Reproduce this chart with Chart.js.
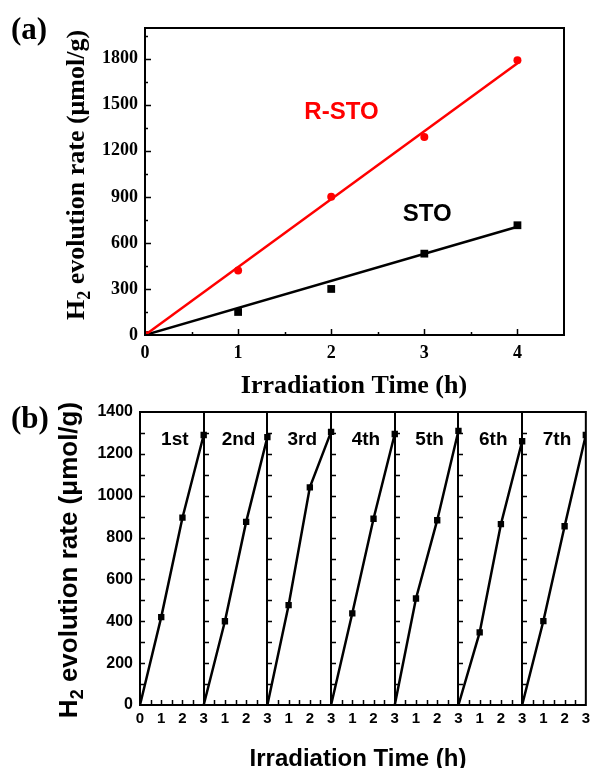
<!DOCTYPE html>
<html><head><meta charset="utf-8">
<script src="https://cdn.jsdelivr.net/npm/chart.js@4.4.0/dist/chart.umd.min.js"></script>
<style>
html,body{margin:0;padding:0;background:#fff;}
#wrap{position:relative;width:595px;height:768px;overflow:hidden;background:#fff;}
canvas{position:absolute;left:0;}
#ca{top:0;}
#cb{top:395px;}
</style></head><body>
<div id="wrap"><canvas id="ca" width="595" height="400"></canvas><canvas id="cb" width="595" height="373"></canvas></div>
<script>
// ---------- Panel (a) data ----------
const timeA = [0, 1, 2, 3, 4];
const rstoValues = [0, 420, 900, 1290, 1790];
const stoValues = [0, 150, 300, 530, 715];
const fitTime = [0, 4];
const rstoFit = [0, 1770];
const stoFit = [0, 705];
const xTicksA = [0, 1, 2, 3, 4];
const yTicksA = [0, 300, 600, 900, 1200, 1500, 1800];

// ---------- Panel (b) data ----------
const cycleLabels = ['1st', '2nd', '3rd', '4th', '5th', '6th', '7th'];
const cycleTime = [0, 1, 2, 3];
const cycle1 = [0, 420, 895, 1290];
const cycle2 = [0, 400, 875, 1280];
const cycle3 = [0, 477, 1040, 1305];
const cycle4 = [0, 438, 890, 1295];
const cycle5 = [0, 509, 883, 1310];
const cycle6 = [0, 347, 864, 1260];
const cycle7 = [0, 401, 854, 1290];
const cycleValues = [cycle1, cycle2, cycle3, cycle4, cycle5, cycle6, cycle7];
const xTickLabelsB = ['0','1','2','3','1','2','3','1','2','3','1','2','3','1','2','3','1','2','3','1','2','3'];
const yTicksB = [0, 200, 400, 600, 800, 1000, 1200, 1400];

const SERIF = '"Liberation Serif", "Times New Roman", serif';
const SANS = '"Liberation Sans", Arial, sans-serif';

function rotTitle(ctx, parts, baseX, cy) {
  ctx.save();
  let total = 0;
  parts.forEach(p => { ctx.font = p.font; p.w = ctx.measureText(p.text).width; total += p.w; });
  ctx.translate(baseX, cy);
  ctx.rotate(-Math.PI / 2);
  ctx.fillStyle = '#000';
  ctx.textBaseline = 'alphabetic';
  ctx.textAlign = 'left';
  let u = -total / 2;
  parts.forEach(p => { ctx.font = p.font; ctx.fillText(p.text, u, p.dy || 0); u += p.w; });
  ctx.restore();
}

const panelA = {
  id: 'panelA',
  afterDraw(chart) {
    const ctx = chart.ctx, a = chart.chartArea, xs = chart.scales.x, ys = chart.scales.y;
    ctx.save();
    ctx.strokeStyle = '#000';
    ctx.lineWidth = 2;
    ctx.strokeRect(a.left, a.top, a.right - a.left, a.bottom - a.top);
    ctx.lineWidth = 1.5;
    ctx.beginPath();
    for (let v = 0.5; v < 4.5; v += 0.5) {
      const px = Math.round(xs.getPixelForValue(v)) + 0.5;
      const len = Number.isInteger(v) ? 6 : 3;
      ctx.moveTo(px, a.bottom); ctx.lineTo(px, a.bottom - len);
    }
    for (let v = 150; v <= 1950; v += 150) {
      const py = Math.round(ys.getPixelForValue(v)) + 0.5;
      const len = (v % 300 === 0) ? 6 : 3;
      ctx.moveTo(a.left, py); ctx.lineTo(a.left + len, py);
    }
    ctx.stroke();
    ctx.font = 'bold 24px ' + SANS;
    ctx.textAlign = 'center';
    ctx.textBaseline = 'alphabetic';
    ctx.fillStyle = '#ff0000';
    ctx.fillText('R-STO', xs.getPixelForValue(2.11), ys.getPixelForValue(1410));
    ctx.fillStyle = '#000';
    ctx.fillText('STO', xs.getPixelForValue(3.03), ys.getPixelForValue(740));
    ctx.font = 'bold 31px ' + SERIF;
    ctx.textAlign = 'left';
    ctx.fillText('(a)', 11, 39);
    ctx.font = 'bold 26px ' + SERIF;
    ctx.textAlign = 'center';
    ctx.fillText('Irradiation Time (h)', 354, 393);
    ctx.restore();
    rotTitle(ctx, [
      {text: 'H', font: 'bold 26px ' + SERIF},
      {text: '2', font: 'bold 18px ' + SERIF, dy: 6},
      {text: ' evolution rate (\u03bcmol/g)', font: 'bold 26px ' + SERIF}
    ], 84, 175);
  }
};

new Chart(document.getElementById('ca'), {
  type: 'line',
  data: {
    datasets: [
      {data: fitTime.map((t, i) => ({x: t, y: rstoFit[i]})), borderColor: '#ff0000', borderWidth: 2.5, pointRadius: 0, fill: false},
      {data: fitTime.map((t, i) => ({x: t, y: stoFit[i]})), borderColor: '#000', borderWidth: 2.5, pointRadius: 0, fill: false},
      {data: timeA.map((t, i) => ({x: t, y: rstoValues[i]})), showLine: false, pointStyle: 'circle', pointRadius: 4, backgroundColor: '#ff0000', borderColor: '#ff0000', borderWidth: 0},
      {data: timeA.map((t, i) => ({x: t, y: stoValues[i]})), showLine: false, pointStyle: 'rect', pointRadius: 5.5, backgroundColor: '#000', borderColor: '#000', borderWidth: 0}
    ]
  },
  options: {
    responsive: false, animation: false, devicePixelRatio: 1,
    layout: {padding: {left: 0, top: 28, right: 31, bottom: 0}},
    plugins: {legend: {display: false}, tooltip: {enabled: false}},
    elements: {line: {tension: 0}},
    scales: {
      x: {
        type: 'linear', min: 0, max: 4.5,
        afterBuildTicks: s => { s.ticks = xTicksA.map(v => ({value: v})); },
        afterFit: s => { s.height = 65; },
        grid: {display: false, drawTicks: false},
        border: {display: false},
        ticks: {color: '#000', font: {family: SERIF, size: 18, weight: 'bold'}, padding: 8, maxRotation: 0,
          callback: (v, i) => String(xTicksA[i])}
      },
      y: {
        type: 'linear', min: 0, max: 2000,
        afterBuildTicks: s => { s.ticks = yTicksA.map(v => ({value: v})); },
        afterFit: s => { s.width = 145; },
        grid: {display: false, drawTicks: false},
        border: {display: false},
        ticks: {color: '#000', font: {family: SERIF, size: 18, weight: 'bold'}, padding: 7,
          callback: (v, i) => String(yTicksA[i])}
      }
    }
  },
  plugins: [panelA]
});

const panelB = {
  id: 'panelB',
  afterDraw(chart) {
    const ctx = chart.ctx, a = chart.chartArea, xs = chart.scales.x, ys = chart.scales.y;
    ctx.save();
    ctx.strokeStyle = '#000';
    ctx.lineWidth = 2;
    ctx.strokeRect(a.left, a.top, a.right - a.left, a.bottom - a.top);
    ctx.beginPath();
    for (let i = 1; i < cycleLabels.length; i++) {
      const px = Math.round(xs.getPixelForValue(3 * i));
      ctx.moveTo(px, a.top); ctx.lineTo(px, a.bottom);
    }
    ctx.stroke();
    ctx.lineWidth = 1.5;
    ctx.beginPath();
    for (let i = 0; i < cycleLabels.length; i++) {
      const px = Math.round(xs.getPixelForValue(3 * i));
      for (let v = 100; v < 1400; v += 100) {
        const py = Math.round(ys.getPixelForValue(v)) + 0.5;
        ctx.moveTo(px, py); ctx.lineTo(px + 5, py);
      }
    }
    for (let v = 0.5; v < 21; v += 0.5) {
      if (v % 3 === 0) continue;
      const px = Math.round(xs.getPixelForValue(v)) + 0.5;
      ctx.moveTo(px, a.bottom); ctx.lineTo(px, a.bottom - 5);
    }
    ctx.stroke();
    ctx.fillStyle = '#000';
    ctx.font = 'bold 19px ' + SANS;
    ctx.textAlign = 'center';
    ctx.textBaseline = 'alphabetic';
    cycleLabels.forEach((lab, i) => {
      ctx.fillText(lab, xs.getPixelForValue(3 * i + 1.5) + 3, 50);
    });
    ctx.font = 'bold 31px ' + SERIF;
    ctx.textAlign = 'left';
    ctx.fillText('(b)', 11, 33);
    ctx.font = 'bold 24px ' + SANS;
    ctx.textAlign = 'center';
    ctx.fillText('Irradiation Time (h)', 358, 371);
    ctx.restore();
    rotTitle(ctx, [
      {text: 'H', font: 'bold 26px ' + SANS},
      {text: '2', font: 'bold 18px ' + SANS, dy: 6},
      {text: ' evolution rate (\u03bcmol/g)', font: 'bold 26px ' + SANS}
    ], 77, 165);
  }
};

new Chart(document.getElementById('cb'), {
  type: 'line',
  data: {
    datasets: cycleValues.map((vals, i) => ({
      label: cycleLabels[i],
      data: cycleTime.map((t, j) => ({x: 3 * i + t, y: vals[j]})),
      borderColor: '#000', backgroundColor: '#000', borderWidth: 2.5,
      pointStyle: 'rect', pointRadius: [0, 4.5, 4.5, 4.5], pointBorderWidth: 0, fill: false
    }))
  },
  options: {
    responsive: false, animation: false, devicePixelRatio: 1,
    layout: {padding: {left: 0, top: 17, right: 7, bottom: 0}},
    plugins: {legend: {display: false}, tooltip: {enabled: false}},
    elements: {line: {tension: 0}},
    scales: {
      x: {
        type: 'linear', min: 0, max: 21,
        afterBuildTicks: s => { s.ticks = xTickLabelsB.map((l, i) => ({value: i})); },
        afterFit: s => { s.height = 63; },
        grid: {display: false, drawTicks: false},
        border: {display: false},
        ticks: {color: '#000', font: {family: SANS, size: 15, weight: 'bold'}, padding: 5, maxRotation: 0, autoSkip: false,
          callback: (v, i) => xTickLabelsB[i]}
      },
      y: {
        type: 'linear', min: 0, max: 1400,
        afterBuildTicks: s => { s.ticks = yTicksB.map(v => ({value: v})); },
        afterFit: s => { s.width = 140; },
        grid: {display: false, drawTicks: false},
        border: {display: false},
        ticks: {color: '#000', font: {family: SANS, size: 16, weight: 'bold'}, padding: 7,
          callback: (v, i) => String(yTicksB[i])}
      }
    }
  },
  plugins: [panelB]
});
</script>
</body></html>
